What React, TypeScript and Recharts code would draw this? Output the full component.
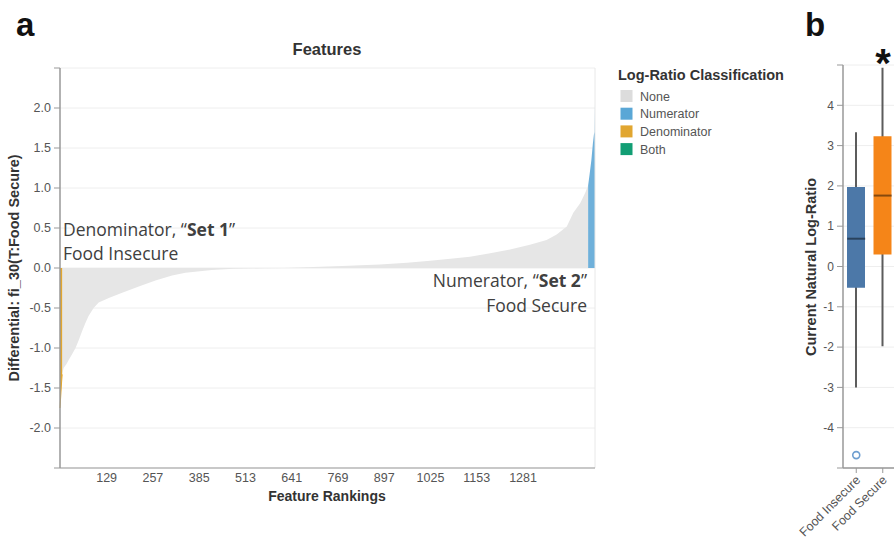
import React from "react";
import {
  ComposedChart,
  Area,
  Bar,
  Cell,
  Scatter,
  XAxis,
  YAxis,
  CartesianGrid,
  ReferenceLine,
} from "recharts";

// panel a: differentials sorted by rank
const DEN_RANKS = [0, 2, 4, 6];
const DEN_VALUES = [-1.75, -1.6, -1.45, -1.33];

const NONE_RANKS = [
  6, 10, 18, 24, 33, 43, 52, 61, 70, 79, 93, 107, 135, 172, 218, 264, 310, 347,
  420, 480, 560, 620, 700, 780, 885, 960, 1024, 1080, 1134, 1190, 1245, 1300,
  1346, 1374, 1402, 1420, 1439, 1453, 1461,
];
const NONE_VALUES = [
  -1.33, -1.25, -1.2, -1.15, -1.08, -1.0, -0.9, -0.79, -0.69, -0.6, -0.5, -0.43,
  -0.375, -0.31, -0.23, -0.155, -0.095, -0.06, -0.025, -0.01, -0.003, 0, 0.012,
  0.025, 0.045, 0.065, 0.09, 0.115, 0.14, 0.185, 0.23, 0.29, 0.35, 0.42, 0.52,
  0.69, 0.81, 0.94, 1.03,
];

const NUM_RANKS = [1461, 1465, 1470, 1474, 1477, 1479, 1480];
const NUM_VALUES = [1.03, 1.17, 1.35, 1.55, 1.67, 1.7, 2.05];

const X_TICKS = [129, 257, 385, 513, 641, 769, 897, 1025, 1153, 1281];
const Y_TICKS = [-2.5, -2, -1.5, -1, -0.5, 0, 0.5, 1, 1.5, 2, 2.5];

const CLASSES = ["None", "Numerator", "Denominator", "Both"];
const CLASS_COLORS = ["#dcdcdc", "#5aa7d6", "#e1a630", "#129e74"];

// panel b: box plot of the current log-ratio
const GROUPS = ["Food Insecure", "Food Secure"];
const LOWER_WHISKER = [-3.0, -1.98];
const Q1 = [-0.53, 0.3];
const MEDIAN = [0.69, 1.76];
const Q3 = [1.97, 3.23];
const UPPER_WHISKER = [3.33, 4.93];
const OUTLIERS = [-4.68, null];
const BOX_COLORS = ["#4c78a8", "#f58518"];
const B_TICKS = [-5, -4, -3, -2, -1, 0, 1, 2, 3, 4, 5];

const FONT = "'Liberation Sans', Arial, sans-serif";
const NOTE_FONT = "'Open Sans', 'Noto Sans', sans-serif";

const ranks = Array.from(new Set([...DEN_RANKS, ...NONE_RANKS, ...NUM_RANKS])).sort(
  (a, b) => a - b
);
const rankData = ranks.map((r) => {
  const d = DEN_RANKS.indexOf(r);
  const n = NONE_RANKS.indexOf(r);
  const u = NUM_RANKS.indexOf(r);
  return {
    rank: r,
    den: d >= 0 ? DEN_VALUES[d] : null,
    none: n >= 0 ? NONE_VALUES[n] : null,
    num: u >= 0 ? NUM_VALUES[u] : null,
  };
});

const boxData = GROUPS.map((g, i) => ({
  name: g,
  whisker: [LOWER_WHISKER[i], UPPER_WHISKER[i]],
  box: [Q1[i], Q3[i]],
  median: MEDIAN[i],
  outlier: OUTLIERS[i],
}));

const tickStyle = { fontSize: 12.5, fill: "#555", fontFamily: FONT };

function MedianLine(props: any) {
  const { cx, cy } = props;
  if (!Number.isFinite(cx) || !Number.isFinite(cy)) return <g />;
  return (
    <line
      x1={cx - 9}
      x2={cx + 9}
      y1={cy}
      y2={cy}
      stroke="#000"
      strokeOpacity={0.45}
      strokeWidth={2}
    />
  );
}

function OutlierDot(props: any) {
  const { cx, cy, payload } = props;
  if (payload == null || payload.outlier == null || !Number.isFinite(cy)) return <g />;
  return <circle cx={cx} cy={cy} r={3.5} fill="#fff" stroke="#6f9fd0" strokeWidth={1.6} />;
}

function RotatedTick(props: any) {
  const { x, y, payload } = props;
  return (
    <text
      transform={`translate(${x},${y}) rotate(-45)`}
      textAnchor="end"
      dy="0.55em"
      fontSize={12.5}
      fill="#555"
      fontFamily={FONT}
    >
      {payload.value}
    </text>
  );
}

export default function App() {
  return (
    <div
      style={{
        position: "absolute",
        left: 0,
        top: 0,
        width: 894,
        height: 544,
        overflow: "hidden",
        background: "#fff",
      }}
    >
      <div style={{ position: "absolute", left: 0, top: 0 }}>
        <ComposedChart
          width={600}
          height={544}
          data={rankData}
          margin={{ top: 68, right: 5, bottom: 46, left: 15 }}
        >
          <CartesianGrid vertical={false} stroke="#eeeeee" />
          <XAxis
            type="number"
            dataKey="rank"
            domain={[0, 1480]}
            ticks={X_TICKS}
            interval={0}
            tickLine={false}
            tickSize={3}
            tickMargin={2}
            height={30}
            axisLine={{ stroke: "#999" }}
            tick={tickStyle}
          />
          <YAxis
            type="number"
            domain={[-2.5, 2.5]}
            ticks={Y_TICKS}
            interval={0}
            width={45}
            tickSize={6}
            tickMargin={3}
            axisLine={{ stroke: "#999", strokeWidth: 1.5 }}
            tickLine={{ stroke: "#999" }}
            tick={tickStyle}
            tickFormatter={(v: number) => (Math.abs(v) === 2.5 ? "" : v.toFixed(1))}
          />
          <ReferenceLine x={1480} stroke="#e8e8e8" />
          <Area
            type="linear"
            dataKey="none"
            stroke="none"
            fill="#e6e6e6"
            fillOpacity={1}
            isAnimationActive={false}
          />
          <Area
            type="linear"
            dataKey="den"
            stroke="#e1a630"
            fill="#e1a630"
            fillOpacity={1}
            isAnimationActive={false}
          />
          <Area
            type="linear"
            dataKey="num"
            stroke="none"
            fill="#6fb0da"
            fillOpacity={1}
            isAnimationActive={false}
          />
        </ComposedChart>
      </div>

      <div style={{ position: "absolute", left: 780, top: 0 }}>
        <ComposedChart
          width={117}
          height={544}
          data={boxData}
          margin={{ top: 65, right: 1, bottom: 16, left: 23 }}
        >
          <CartesianGrid vertical={false} stroke="#eeeeee" xAxisId="b" />
          <XAxis
            xAxisId="b"
            dataKey="name"
            type="category"
            interval={0}
            height={60}
            tickSize={5}
            tickMargin={3}
            axisLine={{ stroke: "#999", strokeWidth: 1.5 }}
            tickLine={{ stroke: "#999" }}
            tick={<RotatedTick />}
          />
          <XAxis xAxisId="w" dataKey="name" type="category" hide />
          <YAxis
            type="number"
            domain={[-5, 5]}
            ticks={B_TICKS}
            interval={0}
            width={40}
            tickSize={6}
            tickMargin={3}
            axisLine={{ stroke: "#999", strokeWidth: 1.5 }}
            tickLine={{ stroke: "#999" }}
            tick={{ ...tickStyle, fontSize: 12 }}
            tickFormatter={(v: number) => (Math.abs(v) === 5 ? "" : String(v))}
          />
          <Bar xAxisId="w" dataKey="whisker" barSize={2} fill="#5c5c5c" isAnimationActive={false} />
          <Bar xAxisId="b" dataKey="box" barSize={18} isAnimationActive={false}>
            {boxData.map((d, i) => (
              <Cell key={d.name} fill={BOX_COLORS[i]} />
            ))}
          </Bar>
          <Scatter xAxisId="b" dataKey="median" shape={MedianLine} isAnimationActive={false} />
          <Scatter xAxisId="b" dataKey="outlier" shape={OutlierDot} isAnimationActive={false} />
        </ComposedChart>
      </div>

      <svg
        width={894}
        height={544}
        style={{ position: "absolute", left: 0, top: 0, pointerEvents: "none" }}
      >
        <g fontFamily={FONT}>
          <text x={16} y={36} fontSize={33} fontWeight={700} fill="#111">
            a
          </text>
          <text x={805} y={36} fontSize={33} fontWeight={700} fill="#111">
            b
          </text>
          <text x={883} y={77} fontSize={40} fontWeight={700} fill="#111" textAnchor="middle">
            *
          </text>
          <text x={327} y={55} fontSize={16.5} fontWeight={700} fill="#333" textAnchor="middle">
            Features
          </text>
          <text x={327} y={501} fontSize={14} fontWeight={700} fill="#333" textAnchor="middle">
            Feature Rankings
          </text>
          <text
            transform="translate(19,268) rotate(-90)"
            fontSize={14.5}
            fontWeight={700}
            fill="#333"
            textAnchor="middle"
          >
            Differential: fi_30(T:Food Secure)
          </text>
          <text
            transform="translate(816,267) rotate(-90)"
            fontSize={14.5}
            fontWeight={700}
            fill="#333"
            textAnchor="middle"
          >
            Current Natural Log-Ratio
          </text>

          <text x={618} y={80} fontSize={14.5} fontWeight={700} fill="#333">
            Log-Ratio Classification
          </text>
          {CLASSES.map((c, i) => (
            <g key={c}>
              <rect x={620.5} y={90 + i * 17.7} width={12} height={12} fill={CLASS_COLORS[i]} />
              <text x={640} y={100.5 + i * 17.7} fontSize={12.5} fill="#555">
                {c}
              </text>
            </g>
          ))}
        </g>

        <g fontFamily={NOTE_FONT} fontSize={17.5} fill="#404040">
          <text x={63} y={236}>
            Denominator, “<tspan fontWeight={700}>Set 1</tspan>”
          </text>
          <text x={63} y={260}>
            Food Insecure
          </text>
          <text x={587} y={287} textAnchor="end">
            Numerator, “<tspan fontWeight={700}>Set 2</tspan>”
          </text>
          <text x={587} y={312} textAnchor="end">
            Food Secure
          </text>
        </g>
      </svg>
    </div>
  );
}
